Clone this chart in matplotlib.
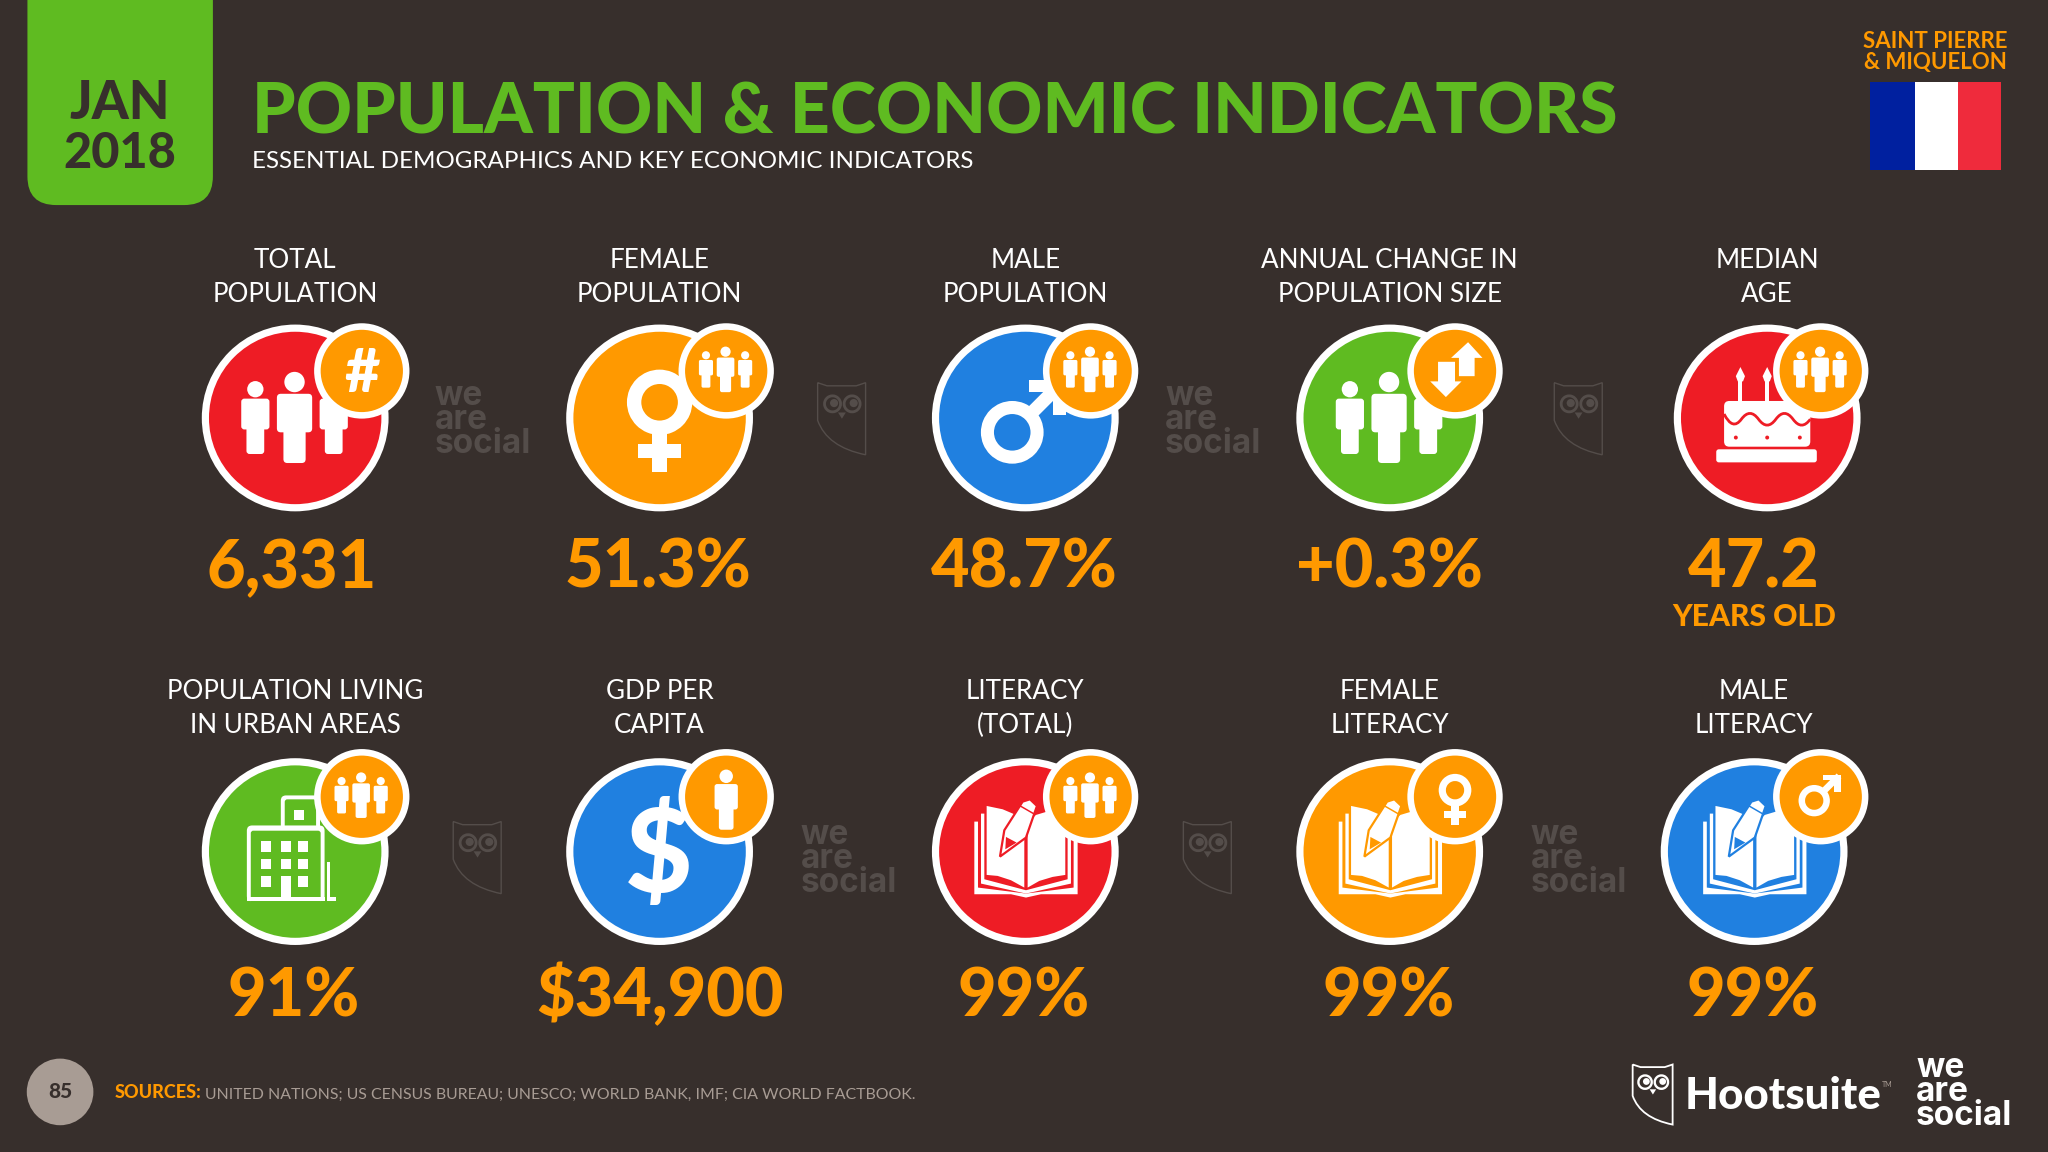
"""Population and economic indicators slide, drawn on a pixel canvas."""
import matplotlib
matplotlib.use("Agg")
import matplotlib.pyplot as plt
from matplotlib.patches import Circle, FancyBboxPatch, PathPatch, Polygon, Rectangle, Wedge
from matplotlib.path import Path

BG = "#372F2C"
GREEN = "#5FBB21"
ORANGE = "#FF9900"
RED = "#EE1C25"
BLUE = "#2080E0"
WHITE = "#FFFFFF"
GHOST = "#544D4A"
TAUPE = "#A89C94"

# data
title = "POPULATION & ECONOMIC INDICATORS"
subtitle = "ESSENTIAL DEMOGRAPHICS AND KEY ECONOMIC INDICATORS"
region = ["SAINT PIERRE", "& MIQUELON"]
top_labels = [["TOTAL", "POPULATION"], ["FEMALE", "POPULATION"], ["MALE", "POPULATION"],
              ["ANNUAL CHANGE IN", "POPULATION SIZE"], ["MEDIAN", "AGE"]]
top_values = ["6,331", "51.3%", "48.7%", "+0.3%", "47.2"]
top_colors = [RED, ORANGE, BLUE, GREEN, RED]
top_icons = ["people", "female", "male", "people", "cake"]
top_badges = ["hash", "people", "people", "updown", "people"]
bottom_labels = [["POPULATION LIVING", "IN URBAN AREAS"], ["GDP PER", "CAPITA"], ["LITERACY", "(TOTAL)"],
                 ["FEMALE", "LITERACY"], ["MALE", "LITERACY"]]
bottom_values = ["91%", "$34,900", "99%", "99%", "99%"]
bottom_colors = [GREEN, BLUE, RED, ORANGE, BLUE]
bottom_icons = ["building", "dollar", "book", "book", "book"]
bottom_badges = ["people", "person", "people", "female", "male"]
sources = "UNITED NATIONS; US CENSUS BUREAU; UNESCO; WORLD BANK, IMF; CIA WORLD FACTBOOK."

# layout, in units of the 1568 wide slide
top_x = [226, 505, 785, 1064, 1353]
bottom_x = [226, 505, 785, 1064, 1343]
top_badge_x = [277, 556, 835, 1114, 1394]
bottom_badge_x = [277, 556, 835, 1114, 1394]
top_value_x = [223.5, 504, 784, 1064, 1343]
bottom_value_x = [224.5, 505.5, 783.5, 1063, 1342]
top_y, bottom_y = 320, 652

fig = plt.figure(figsize=(20.48, 11.52), dpi=100, facecolor=BG)
ax = fig.add_axes([0, 0, 1, 1])
ax.set_xlim(0, 1568)
ax.set_ylim(882, 0)
ax.axis("off")

z = 1


def add(patch):
    global z
    z += 1
    patch.set_zorder(z)
    ax.add_patch(patch)
    return patch


def txt(x, y, s, size, color=WHITE, weight="normal", family="Lato", ha="center", **kw):
    global z
    z += 1
    return ax.text(x, y, s, fontsize=size, color=color, fontweight=weight, family=family,
                   ha=ha, va="baseline", zorder=z, **kw)


def rrect(x0, y0, x1, y1, r, color):
    add(FancyBboxPatch((x0 + r, y0 + r), x1 - x0 - 2 * r, y1 - y0 - 2 * r, boxstyle=f"round,pad={r},rounding_size={r}",
                       fc=color, ec="none"))


def poly(points, color, **kw):
    add(Polygon(points, closed=True, fc=color, ec=kw.get("ec", "none"), lw=kw.get("lw", 0)))


def person(cx, cy, s, color=WHITE):
    add(Circle((cx, cy - 27.5 * s), 7.8 * s, fc=color, ec="none"))
    rrect(cx - 13.5 * s, cy - 18.5 * s, cx + 13.5 * s, cy + 11 * s, 3 * s, color)
    rrect(cx - 8.5 * s, cy - 5 * s, cx + 8.5 * s, cy + 34.5 * s, 3 * s, color)


def people(cx, cy, s):
    person(cx - 30 * s, cy, s * 0.8)
    person(cx + 30 * s, cy, s * 0.8)
    person(cx, cy, s)


def female(cx, cy, s):
    add(Wedge((cx, cy - 12 * s), 25 * s, 0, 360, width=11 * s, fc=WHITE, ec="none"))
    add(Rectangle((cx - 5.5 * s, cy + 11 * s), 11 * s, 30 * s, fc=WHITE, ec="none"))
    add(Rectangle((cx - 16.5 * s, cy + 20 * s), 33 * s, 11 * s, fc=WHITE, ec="none"))


def male(cx, cy, s):
    add(Wedge((cx - 10 * s, cy + 11 * s), 24 * s, 0, 360, width=10 * s, fc=WHITE, ec="none"))
    w = 3.6 * s
    poly([(cx + 3 * s - w, cy - 2 * s - w), (cx + 28 * s - w, cy - 27 * s - w),
          (cx + 28 * s + w, cy - 27 * s + w), (cx + 3 * s + w, cy - 2 * s + w)], WHITE)
    add(Rectangle((cx + 3 * s, cy - 29 * s), 28 * s, 9 * s, fc=WHITE, ec="none"))
    add(Rectangle((cx + 21 * s, cy - 29 * s), 10 * s, 27 * s, fc=WHITE, ec="none"))


def updown(cx, cy):
    poly([(cx + 10, cy - 22), (cx + 21, cy - 10), (cx + 15, cy - 10), (cx + 15, cy + 4),
          (cx + 3, cy + 4), (cx + 3, cy - 10), (cx - 3, cy - 10)], WHITE)
    poly([(cx - 13, cy - 7), (cx, cy - 7), (cx, cy + 8), (cx + 5, cy + 8), (cx - 7, cy + 20),
          (cx - 19, cy + 8), (cx - 13, cy + 8)], WHITE)


def cake(cx, cy, color):
    for dx in (-20.5, 0):
        add(Rectangle((cx + dx - 1.5, cy - 30), 3, 20, fc=WHITE, ec="none"))
        poly([(cx + dx, cy - 39), (cx + dx + 3.5, cy - 32), (cx + dx + 2, cy - 28),
              (cx + dx - 2, cy - 28), (cx + dx - 3.5, cy - 32)], WHITE)
    rrect(cx - 33, cy - 13, cx + 33, cy + 22, 4, WHITE)
    rrect(cx - 39, cy + 24, cx + 38, cy + 34, 2, WHITE)
    verts = [(cx - 33, cy - 3)]
    codes = [Path.MOVETO]
    for i in range(5):
        x0 = cx - 33 + 13.2 * i
        bump = 9 if i % 2 == 0 else -9
        verts += [(x0 + 6.6, cy + 1 + bump), (x0 + 13.2, cy + 1)]
        codes += [Path.CURVE3, Path.CURVE3]
    add(PathPatch(Path(verts, codes), fc="none", ec=color, lw=2))
    for dx in (-24, 0, 25):
        add(Circle((cx + dx, cy + 15), 1.5, fc=color, ec="none"))


def building(cx, cy, color):
    rrect(cx - 11, cy - 43, cx + 19, cy + 10, 4, WHITE)
    rrect(cx - 8, cy - 40, cx + 16, cy + 10, 2, color)
    add(Rectangle((cx - 1, cy - 32), 8, 8, fc=WHITE, ec="none"))
    add(Rectangle((cx + 24, cy + 8), 7, 30, fc=WHITE, ec="none"))
    add(Rectangle((cx + 27, cy + 8), 4, 27, fc=color, ec="none"))
    rrect(cx - 37, cy - 20, cx + 22.5, cy + 38, 4, WHITE)
    rrect(cx - 34, cy - 16, cx + 19.5, cy + 40, 2, color)
    add(Rectangle((cx - 37, cy + 35), 59.5, 3, fc=WHITE, ec="none"))
    for row, wy in enumerate((-8, 5.5, 19)):
        for col, wx in enumerate((-26, -11, 2)):
            if row == 2 and col == 1:
                add(Rectangle((cx + wx, cy + wy), 7.5, 19, fc=WHITE, ec="none"))
            else:
                add(Rectangle((cx + wx, cy + wy), 7.5, 8, fc=WHITE, ec="none"))


def book(cx, cy, color):
    def m(pts):
        return [(cx + (x - 298) / 3.92, cy + (y - 332) / 3.92) for x, y in pts]

    poly(m([(145, 242), (156, 242), (156, 440), (300, 458), (443, 440), (443, 290), (455, 290),
            (455, 460), (345, 460), (300, 470), (255, 460), (145, 460)]), WHITE)
    poly(m([(165, 218), (175, 218), (175, 415), (300, 448), (425, 415), (425, 290), (435, 290),
            (435, 428), (300, 458), (165, 428)]), WHITE)
    poly(m([(182, 195), (230, 205), (270, 222), (295, 245), (295, 440), (255, 418), (215, 405), (182, 402)]), WHITE)
    poly(m([(305, 245), (330, 222), (370, 210), (418, 205), (418, 402), (380, 408), (340, 420), (305, 440)]), WHITE)
    poly(m([(222, 347), (235, 268), (290, 182), (312, 175), (333, 195), (300, 290)]), WHITE, ec=color, lw=1.6)
    poly(m([(240, 288), (272, 305), (238, 325)]), color)
    poly(m([(282, 192), (327, 218), (325, 222), (280, 196)]), color)


def owl(x, y, s, color, lw):
    verts = [(x, y), (x + 6 * s, y + 2 * s), (x + 24.6 * s, y + 2 * s), (x + 30.6 * s, y),
             (x + 30.6 * s, y + 46 * s), (x + 6 * s, y + 41 * s), (x, y + 24 * s), (x, y)]
    codes = [Path.MOVETO, Path.LINETO, Path.LINETO, Path.LINETO, Path.LINETO, Path.CURVE3, Path.CURVE3, Path.LINETO]
    add(PathPatch(Path(verts, codes), fc="none", ec=color, lw=lw))
    for dx in (9.5, 22):
        add(Wedge((x + dx * s, y + 13.5 * s), 6 * s, 0, 360, width=1.8 * s, fc=color, ec="none"))
        add(Circle((x + (dx + 1) * s, y + 13 * s), 2.6 * s, fc=color, ec="none"))
    poly([(x + 13 * s, y + 19 * s), (x + 18 * s, y + 19 * s), (x + 15.5 * s, y + 23 * s)], color)


def we_are_social(x, y, color):
    # one text block, y is the baseline of the last line
    txt(x, y, "we\nare\nsocial", 24, color, "bold", "Inter", "left", linespacing=0.68, multialignment="left")


def draw_icon(name, cx, cy, color):
    if name == "people":
        people(cx - 0.5, cy, 1)
    elif name == "female":
        female(cx, cy, 1)
    elif name == "male":
        male(cx, cy, 1)
    elif name == "cake":
        cake(cx, cy, color)
    elif name == "building":
        building(cx, cy, color)
    elif name == "dollar":
        txt(cx - 1, cy + 31, "$", 84, WHITE, "black")
    elif name == "book":
        book(cx, cy, color)


def draw_badge(name, cx, cy):
    add(Circle((cx, cy), 36.5, fc=WHITE, ec="none"))
    add(Circle((cx, cy), 31.5, fc=ORANGE, ec="none"))
    if name == "people":
        people(cx - 0.5, cy - 1, 0.5)
    elif name == "person":
        person(cx, cy + 2.5, 0.66)
    elif name == "hash":
        txt(cx, cy + 16, "#", 44, WHITE, "black")
    elif name == "updown":
        updown(cx, cy)
    elif name == "female":
        female(cx, cy + 1, 0.5)
    elif name == "male":
        male(cx, cy - 2.5, 0.5)


def draw_row(xs, badge_xs, y, badge_y, labels, values, value_xs, colors, icons, badges, label_y, value_y):
    for i, x in enumerate(xs):
        txt(x, label_y, labels[i][0], 18.7)
        txt(x, label_y + 26, labels[i][1], 18.7)
        add(Circle((x, y), 71.5, fc=WHITE, ec="none"))
        add(Circle((x, y), 66, fc=colors[i], ec="none"))
        draw_icon(icons[i], x, y, colors[i])
        draw_badge(badges[i], badge_xs[i], badge_y)
        txt(value_xs[i], value_y, values[i], 48, ORANGE, "black")


# header
rrect(21, -40, 163, 157, 22, GREEN)
txt(92, 91, "JAN", 38, BG, "black")
txt(92, 129, "2018", 35, BG, "black")
txt(193, 102, title, 50.1, GREEN, "black", ha="left")
txt(193, 129, subtitle, 17.4, ha="left")
txt(1482, 37, region[0], 16, ORANGE, "bold")
txt(1482, 53, region[1], 16, ORANGE, "bold")
add(Rectangle((1432, 63), 34, 67, fc="#00209F", ec="none"))
add(Rectangle((1466, 63), 33, 67, fc=WHITE, ec="none"))
add(Rectangle((1499, 63), 33, 67, fc="#EF2B3C", ec="none"))

# tiles
draw_row(top_x, top_badge_x, top_y, 284, top_labels, top_values, top_value_x, top_colors, top_icons, top_badges, 205.5, 450)
draw_row(bottom_x, bottom_badge_x, bottom_y, 610, bottom_labels, bottom_values, bottom_value_x, bottom_colors,
         bottom_icons, bottom_badges, 535.5, 778)
txt(1343, 479, "YEARS OLD", 21.6, ORANGE, "black")

# watermarks
for wx, wy in [(333, 347), (892, 347), (613, 683), (1172, 683)]:
    we_are_social(wx, wy, GHOST)
for ox, oy in [(626, 293), (1190, 293), (347, 629), (906, 629)]:
    owl(ox, oy, 1.2, GHOST, 1.0)

# footer
add(Circle((46, 836), 25.5, fc=TAUPE, ec="none"))
txt(46, 841, "85", 15, BG, "black")
txt(88, 841, "SOURCES:", 13, ORANGE, "black", ha="left")
txt(157, 841, sources, 11.47, TAUPE, ha="left")
owl(1250, 815, 1, WHITE, 1.3)
txt(1290, 849, "Hootsuite", 31.6, WHITE, "black", ha="left")
txt(1441, 832, "TM", 5, TAUPE, ha="left")
we_are_social(1467, 861, WHITE)

fig.savefig("out.png", dpi=100, facecolor=BG)
